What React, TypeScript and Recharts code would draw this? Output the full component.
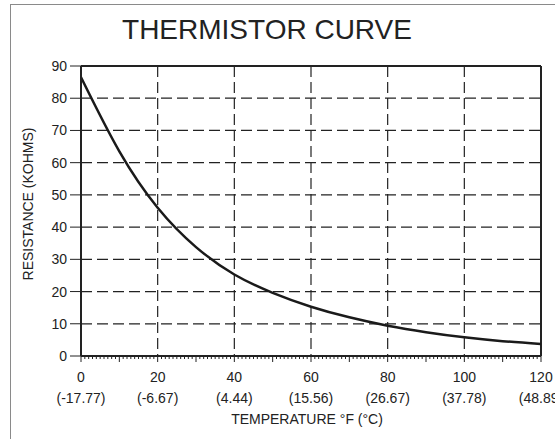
import { LineChart, Line, XAxis, YAxis, CartesianGrid, ReferenceLine, Label } from 'recharts';

const tempF = [0, 10, 20, 30, 40, 50, 60, 70, 80, 90, 100, 110, 120];
const resistance = [86.5, 63.5, 46, 33.8, 25.3, 19.6, 15.3, 12, 9.4, 7.4, 5.8, 4.6, 3.7];

const majorF = [0, 20, 40, 60, 80, 100, 120];
const celsiusLabels = ['-17.77', '-6.67', '4.44', '15.56', '26.67', '37.78', '48.89'];
const yTicks = [0, 10, 20, 30, 40, 50, 60, 70, 80, 90];
const gridY = [10, 20, 30, 40, 50, 60, 70, 80];
const gridX = [20, 40, 60, 80, 100];

// one tick per degree F, labels only on the majors
const minorF = Array.from({ length: 121 }, (_, i) => i);

const data = tempF.map((f, i) => ({ f, r: resistance[i] }));

const FONT = '"Liberation Sans", Arial, Helvetica, sans-serif';
const INK = '#222';

function TempTick({ x, y, payload }: any) {
  const v = payload.value as number;
  const idx = majorF.indexOf(v);
  const len = v % 10 === 0 ? 6 : 3;
  return (
    <g>
      <line x1={x} x2={x} y1={y} y2={y + len} stroke={INK} strokeWidth={1} />
      {idx >= 0 && (
        <text textAnchor="middle" fill={INK} fontSize={14} fontFamily={FONT}>
          <tspan x={x} y={y + 26}>{v}</tspan>
          <tspan x={x} y={y + 47}>({celsiusLabels[idx]})</tspan>
        </text>
      )}
    </g>
  );
}

export default function App() {
  return (
    <div
      style={{
        position: 'absolute',
        left: 0,
        top: 0,
        width: 555,
        height: 439,
        overflow: 'hidden',
        background: '#fff',
        fontFamily: FONT,
      }}
    >
      <div
        style={{
          position: 'absolute',
          left: 10,
          top: 4,
          width: 600,
          height: 500,
          borderLeft: '1.5px solid #8a8a8a',
          borderTop: '1.5px solid #8a8a8a',
        }}
      />
      <svg width={555} height={60} style={{ position: 'absolute', left: 0, top: 0 }}>
        <text x={267} y={39} textAnchor="middle" fontSize={28} fill={INK} fontFamily={FONT}>
          THERMISTOR CURVE
        </text>
      </svg>
      <div style={{ position: 'absolute', left: 0, top: 0 }}>
        <LineChart width={555} height={439} data={data} margin={{ top: 66, right: 14, bottom: 0, left: 0 }}>
          <CartesianGrid
            stroke={INK}
            strokeWidth={1.2}
            strokeDasharray="11 5"
            horizontalValues={gridY}
            verticalValues={gridX}
          />
          <XAxis
            dataKey="f"
            type="number"
            domain={[0, 120]}
            ticks={minorF}
            interval={0}
            height={83}
            tickLine={false}
            tickSize={0}
            tickMargin={0}
            tick={<TempTick />}
            axisLine={{ stroke: INK, strokeWidth: 2 }}
          >
            <Label
              content={({ viewBox }: any) => (
                <text
                  x={viewBox.x + viewBox.width / 2 - 4}
                  y={viewBox.y + 68}
                  textAnchor="middle"
                  fontSize={14}
                  fill={INK}
                  fontFamily={FONT}
                >
                  TEMPERATURE °F (°C)
                </text>
              )}
            />
          </XAxis>
          <YAxis
            type="number"
            domain={[0, 90]}
            ticks={yTicks}
            interval={0}
            width={81}
            tickSize={11}
            tickMargin={3}
            tick={{ fill: INK, fontSize: 14, fontFamily: FONT }}
            tickLine={{ stroke: INK, strokeWidth: 1 }}
            axisLine={{ stroke: INK, strokeWidth: 2 }}
          >
            <Label
              content={({ viewBox }: any) => {
                const cx = 28;
                const cy = viewBox.y + viewBox.height / 2 - 7;
                return (
                  <text
                    x={cx}
                    y={cy}
                    transform={`rotate(-90 ${cx} ${cy})`}
                    textAnchor="middle"
                    dominantBaseline="central"
                    fontSize={14}
                    fill={INK}
                    fontFamily={FONT}
                  >
                    RESISTANCE (KOHMS)
                  </text>
                );
              }}
            />
          </YAxis>
          <ReferenceLine y={90} stroke={INK} strokeWidth={2} />
          <ReferenceLine x={120} stroke={INK} strokeWidth={2} />
          <Line
            type="natural"
            dataKey="r"
            stroke="#1a1a1a"
            strokeWidth={2.5}
            dot={false}
            isAnimationActive={false}
          />
        </LineChart>
      </div>
    </div>
  );
}
